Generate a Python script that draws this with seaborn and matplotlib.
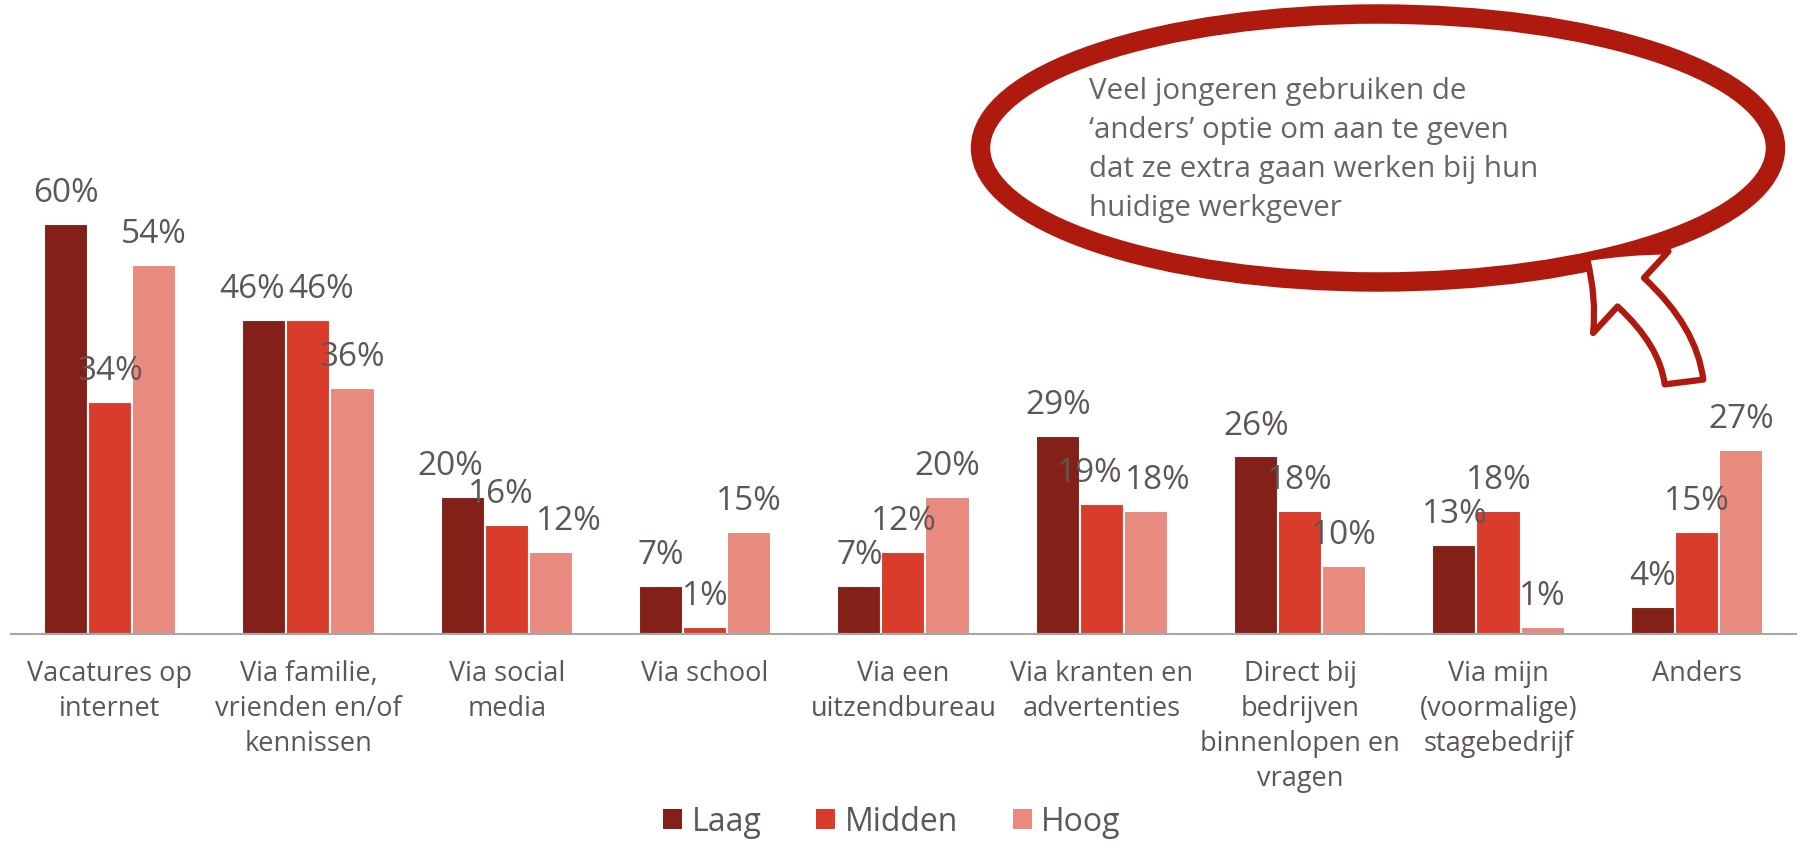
import pandas as pd
import seaborn as sns
import matplotlib.pyplot as plt
from matplotlib.patches import Ellipse, FancyArrowPatch, Patch
from matplotlib.path import Path

categories = ["Vacatures op\ninternet", "Via familie,\nvrienden en/of\nkennissen",
              "Via social\nmedia", "Via school", "Via een\nuitzendbureau",
              "Via kranten en\nadvertenties", "Direct bij\nbedrijven\nbinnenlopen en\nvragen",
              "Via mijn\n(voormalige)\nstagebedrijf", "Anders"]
levels = ["Laag", "Midden", "Hoog"]
laag = [60, 46, 20, 7, 7, 29, 26, 13, 4]
midden = [34, 46, 16, 1, 12, 19, 18, 18, 15]
hoog = [54, 36, 12, 15, 20, 18, 10, 1, 27]
colors = ["#832018", "#D93C2A", "#E88A7E"]
note = "Veel jongeren gebruiken de\n\u2018anders\u2019 optie om aan te geven\ndat ze extra gaan werken bij hun\nhuidige werkgever"

rows = []
for lvl, vals in zip(levels, [laag, midden, hoog]):
    for cat, v in zip(categories, vals):
        rows.append({"cat": cat, "level": lvl, "val": v})
df = pd.DataFrame(rows)

sns.set_style("white")
plt.rcParams['font.family'] = ['Open Sans', 'DejaVu Sans']
txt = "#5e5656"

fig = plt.figure(figsize=(18.02, 8.42), dpi=100)
ax = fig.add_axes([0.006, 0.247, 0.9907, 0.753])

sns.barplot(data=df, x="cat", y="val", hue="level", palette=colors, width=0.667,
            saturation=1, edgecolor="white", linewidth=1.5, ax=ax, legend=False)

ann = []
for cont, vals in zip(ax.containers, [laag, midden, hoog]):
    ann.append(ax.bar_label(cont, labels=[f"{v}%" for v in vals], padding=10,
                            fontsize=24, color=txt))

ax.set_xlim(-0.5, 8.5)
ax.set_ylim(0, 92.8)
ax.set_xlabel("")
ax.set_ylabel("")
ax.set_yticks([])
ax.tick_params(axis="x", length=0, pad=19, labelsize=19.5, labelcolor=txt)
for lab in ax.get_xticklabels():
    lab.set_linespacing(1.32)
sns.despine(ax=ax, left=True, top=True, right=True)
ax.spines["bottom"].set_color("#a6a6a6")
ax.spines["bottom"].set_linewidth(1.5)

# push apart value labels that collide inside a group
fig.canvas.draw()
r = fig.canvas.get_renderer()
for i in range(len(categories)):
    group = [ann[k][i] for k in range(3)]
    for a, b in zip(group[:-1], group[1:]):
        ba, bb = a.get_window_extent(r), b.get_window_extent(r)
        ov = ba.x1 - bb.x0 + 3
        if ov > 0 and ba.y0 < bb.y1 and bb.y0 < ba.y1:
            sh = ov / 2 * 72 / fig.dpi
            a.xyann = (a.xyann[0] - sh, a.xyann[1])
            b.xyann = (b.xyann[0] + sh, b.xyann[1])

# legend
handles = [Patch(facecolor=c, edgecolor="none") for c in colors]
fig.legend(handles, levels, loc="lower center", bbox_to_anchor=(0.495, -0.03), ncol=3,
           frameon=False, fontsize=23, labelcolor=txt, handlelength=0.6, handleheight=0.6,
           handletextpad=0.3, columnspacing=1.7)

# note in ellipse
W, H = 1802, 842
red = "#AE1A0D"
fig.patches.append(Ellipse((1378 / W, 1 - 148 / H), 795 / W, 268 / H, transform=fig.transFigure,
                           fill=False, edgecolor=red, linewidth=14))
fig.text(1089 / W, 1 - 150 / H, note, ha="left", va="center", fontsize=21.3, color="#6b6363",
         linespacing=1.46)

# curved arrow
pts = [(1684 / W, 1 - 382 / H), (1676 / W, 1 - 318 / H), (1587 / W, 1 - 258 / H)]
path = Path(pts, [Path.MOVETO, Path.CURVE3, Path.CURVE3])
arrow = FancyArrowPatch(path=path, arrowstyle="simple,head_length=2.0,head_width=4.0,tail_width=1.4",
                        mutation_scale=20, facecolor="white", edgecolor=red, linewidth=4.5,
                        transform=fig.transFigure)
fig.patches.append(arrow)

fig.savefig("out.png", dpi=100)
